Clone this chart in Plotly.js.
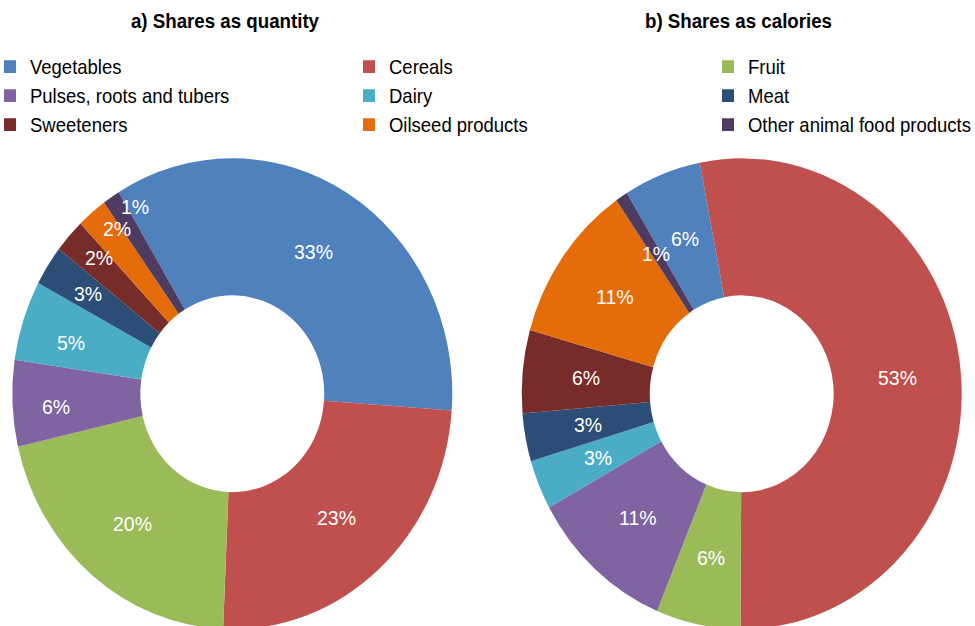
<!DOCTYPE html>
<html>
<head>
<meta charset="utf-8">
<script src="https://cdn.plot.ly/plotly-3.0.1.min.js"></script>
<style>
  html { overflow: hidden; }
  html, body { margin: 0; padding: 0; background: #fff; }
  #wrap { position: absolute; left: -10px; top: 0; width: 1100px; height: 600px;
          transform: scaleY(1.07); transform-origin: 0 0; }
</style>
</head>
<body>
<div id="wrap"><div id="chart"></div></div>
<script>
// ---- data ----
const categories = ["Vegetables", "Cereals", "Fruit", "Pulses, roots and tubers", "Dairy",
                    "Meat", "Sweeteners", "Oilseed products", "Other animal food products"];
const quantityShares = [32.9, 23.2, 19.6, 5.6, 5.2, 2.6, 2.2, 2.1, 1.2];
const calorieShares  = [5.7, 53.2, 6.2, 10.7, 3.4, 3.3, 5.7, 11.0, 0.9];
const titles = ["a) Shares as quantity", "b) Shares as calories"];
const colors = ["#4F81BD", "#C0504D", "#9BBB59", "#8064A2", "#4BACC6",
                "#2C4D75", "#772C2A", "#E46C0A", "#4D3B62"];

// ---- layout config (pixel geometry before the vertical stretch) ----
const OX = 10;         // canvas is shifted left by this many px
const WL = 1100, H = 600;
const R = 220;
const pies = [
  {cx: 232.3, cy: 368, rotation: -31.1,
   labelR: [156,156,157,177,168,172,184,193,200],
   labelNudge: [0,0,0,-1.5,-1.7,0,1.6,2.8,4.3]},
  {cx: 741.7, cy: 368, rotation: -31.5,
   labelR: [156,156,156,156,156,156,156,156,156],
   labelNudge: [0,0,0,0,0,0,0,0,0]}
];
const FONT = "Liberation Sans, Arial, sans-serif";
const px2x = px => (px + OX) / WL;
const py2y = py => (H - py) / H;

function domainOf(p) {
  const yc = py2y(p.cy), hh = 0.37;
  return {x: [px2x(p.cx - R), px2x(p.cx + R)], y: [yc - hh, yc + hh]};
}

const series = [quantityShares, calorieShares];
const traces = series.map((vals, k) => ({
  type: "pie",
  labels: categories,
  values: vals,
  sort: false,
  direction: "clockwise",
  rotation: pies[k].rotation,
  hole: 0.418,
  domain: domainOf(pies[k]),
  marker: {colors: colors, line: {width: 0}},
  textinfo: "none",
  hoverinfo: "label+value",
  showlegend: true
}));

const annotations = [];
series.forEach((vals, k) => {
  const p = pies[k];
  const total = vals.reduce((a, b) => a + b, 0);
  let cum = 0;
  vals.forEach((v, i) => {
    const mid = (p.rotation + (cum + v / 2) / total * 360 + p.labelNudge[i]) * Math.PI / 180;
    cum += v;
    const r = p.labelR[i];
    annotations.push({
      xref: "paper", yref: "paper",
      x: px2x(p.cx + r * Math.sin(mid)), y: py2y(p.cy - r * Math.cos(mid)),
      xanchor: "center", yanchor: "middle", showarrow: false,
      text: Math.round(v) + "%",
      font: {family: FONT, size: 19.5, color: "#ffffff"}
    });
  });
});
[225.8, 738.3].forEach((x, k) => {
  annotations.push({
    xref: "paper", yref: "paper", x: px2x(x), y: py2y(20),
    xanchor: "center", yanchor: "middle", showarrow: false,
    text: "<b>" + titles[k] + "</b>",
    font: {family: FONT, size: 18.7, color: "#000000"}
  });
});

const layout = {
  width: WL, height: H,
  margin: {l: 0, r: 0, t: 0, b: 0},
  paper_bgcolor: "#ffffff",
  showlegend: true,
  legend: {
    orientation: "h",
    x: 0, xanchor: "left",
    y: py2y(43.8), yanchor: "top",
    entrywidth: 314, entrywidthmode: "pixels",
    font: {family: FONT, size: 18.5, color: "#000000"},
    bgcolor: "rgba(0,0,0,0)",
    traceorder: "normal"
  },
  annotations: annotations
};

Plotly.newPlot("chart", traces, layout, {displayModeBar: false, staticPlot: true});
</script>
</body>
</html>
